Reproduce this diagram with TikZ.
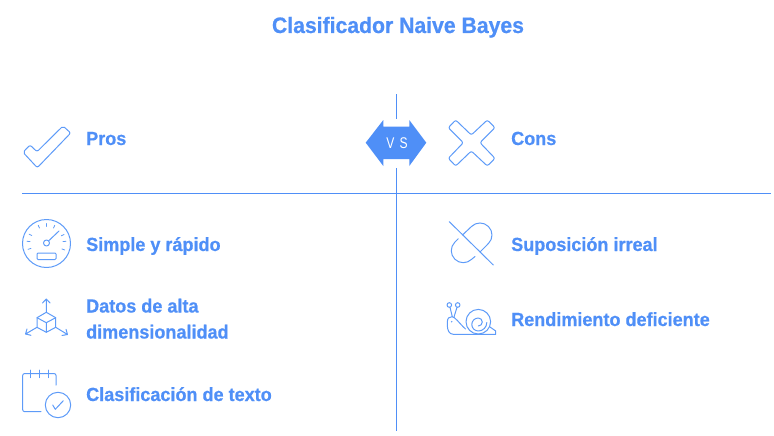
\documentclass[tikz,border=0pt]{standalone}
\usepackage{fontspec}
\setmainfont{Liberation Sans}[BoldFeatures={FakeStretch=0.95,FakeBold=0.6}]
\newfontfamily\vsfont{Liberation Sans}[FakeStretch=0.78]
\usetikzlibrary{arrows, positioning}
\definecolor{nbblue}{HTML}{4F8FF7}
\definecolor{nbicon}{HTML}{5E9BF8}
\tikzset{
	titletext/.style={text=nbblue, anchor=base, inner sep=0pt, font=\fontsize{22.3}{27}\selectfont\bfseries},
	itemtext/.style={text=nbblue, anchor=base west, align=left, inner sep=0pt, font=\fontsize{19}{26}\selectfont\bfseries},
	divider/.style={draw=nbblue, line width=0.9pt},
	icon/.style={draw=nbicon, line width=1pt, line join=round, line cap=round}
}
\begin{document}
\begin{tikzpicture}[x=1pt, y=-1pt]
	\useasboundingbox (0,0) rectangle (774,436);
	
	% texts
	\node[titletext] (title) at (398,33) {Clasificador Naive Bayes};
	\node[itemtext] (pros) at (86,145) {Pros};
	\node[itemtext] (cons) at (511,145) {Cons};
	\node[itemtext] (simple) at (86,251) {Simple y rápido};
	\node[itemtext] (datos) at (86,338.5) {Datos de alta\\dimensionalidad};
	\node[itemtext] (clasif) at (86,401) {Clasificación de texto};
	\node[itemtext] (irreal) at (511,251) {Suposición irreal};
	\node[itemtext] (rend) at (511,326) {Rendimiento deficiente};
	
	% dividers
	\coordinate (vtop) at (396.3,94);
	\coordinate (vbot) at (396.3,431);
	\coordinate (vsa) at (396.3,119);
	\coordinate (vsb) at (396.3,168);
	\coordinate (hleft) at (22,193.3);
	\coordinate (hright) at (771,193.3);
	\path[divider]
	(vtop) edge (vsa)
	(vsb) edge (vbot)
	(hleft) edge (hright);
	
	% vs badge
	\fill[nbblue] (365.7,142.7) -- (383.3,120) -- (383.3,126.7) -- (409.3,126.7) -- (409.3,120)
	-- (426.3,142.7) -- (409.3,166) -- (409.3,159) -- (383.3,159) -- (383.3,166) -- cycle;
	\node[text=white, font=\fontsize{15.5}{17}\vsfont] (vs) at (397,143.5) {V\,\,S};
	
	% check
	\draw[icon, rounded corners=2pt] (30,145) -- (23,152.3) -- (37.3,167.7) -- (70.7,133) -- (63,126) -- (37,151.7) -- cycle;
	
	% cross
	\draw[icon, rounded corners=2pt] (448.3,127.7) -- (455.7,120) -- (471.3,135) -- (487.3,120) -- (495,127.7) -- (480,142.7)
	-- (495,158.3) -- (487.3,166) -- (471.3,151) -- (455.7,166) -- (448.3,158.3) -- (463.3,142.7) -- cycle;
	
	% gauge
	\draw[icon] (46.5,243.5) circle[radius=24pt];
	\draw[icon] (46.5,243) circle[radius=3pt];
	\draw[icon] (48.7,240.8) -- (59,231);
	\draw[icon, rounded corners=1pt] (37,253) rectangle (56,259.5);
	\foreach \a in {-21,5,26,65,90,115,153,175,199}
		\draw[icon, line width=0.8pt] ([shift={(\a:16.5pt)}]46.5,243) -- ([shift={(\a:19.5pt)}]46.5,243);
	
	% cube
	\draw[icon] (46.3,312.3) -- (55.7,317.7) -- (55.7,327.3) -- (46.3,332.3) -- (37,327.3) -- (37,317.7) -- cycle;
	\draw[icon] (37,317.7) -- (46.3,322.7) -- (55.7,317.7) (46.3,322.7) -- (46.3,332.3);
	\draw[icon] (46.3,312.3) -- (46.3,299) (42.5,303) -- (46.3,299) -- (50.1,303);
	\draw[icon] (37,327.3) -- (25.5,334) (27,329) -- (25.5,334) -- (31,335.3);
	\draw[icon] (55.7,327.3) -- (67.5,334.5) (66,329.3) -- (67.5,334.5) -- (62,335.5);
	
	% calendar
	\draw[icon, rounded corners=2pt] (56,385) -- (56,373.5) -- (22.7,373.5) -- (22.7,411.7) -- (41,411.7);
	\foreach \x in {30,39.7,48}
		\draw[icon] (\x,370) -- (\x,377.7);
	\draw[icon] (58,405) circle[radius=12.7pt];
	\draw[icon] (52.7,405) -- (55.3,409.3) -- (63.3,400.7);
	
	% pill
	\draw[icon] (449.3,221.7) -- (493.3,265);
	\draw[icon] (462.5,235) -- (471.5,226.5) arc[start angle=135, end angle=-45, radius=12pt] -- (480,252);
	\draw[icon] (458.3,238.7) -- (454.8,242.2) arc[start angle=135, end angle=315, radius=12pt] -- (475,256.5);
	
	% snail
	\draw[icon] (478.3,321.7) circle[radius=12.3pt];
	\draw[icon] (478.3,326) arc[start angle=-90, end angle=90, radius=4pt]
	arc[start angle=90, end angle=270, radius=6.5pt] arc[start angle=270, end angle=360, radius=8.5pt];
	\draw[icon] (490,327) -- (495.7,331) -- (495.7,334.3) -- (453.3,334.3)
	.. controls (449,334.3) and (447.3,330) .. (447.3,325) -- (447.3,322)
	.. controls (447.3,318) and (449.5,316.7) .. (452,316.7)
	.. controls (455,316.7) and (459,323) .. (465.5,329);
	\draw[icon] (449.3,305) circle[radius=2.3pt] (457.7,305) circle[radius=2.3pt];
	\draw[icon] (450,307.3) -- (452.3,316.7) (457,307.3) -- (454,317);
	\fill[nbicon] (451.7,321.7) circle[radius=0.8pt];
\end{tikzpicture}
\end{document}
